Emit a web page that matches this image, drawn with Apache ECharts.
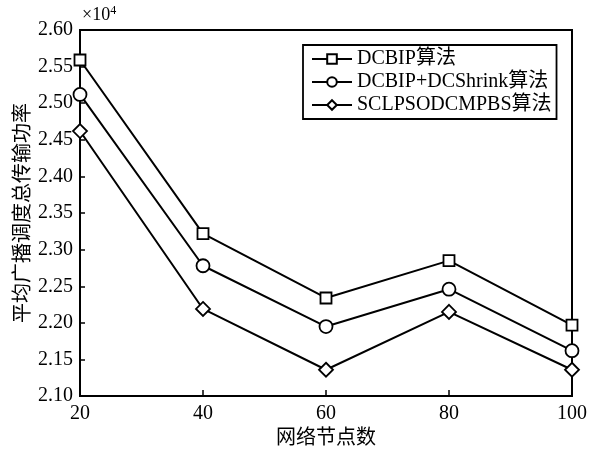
<!DOCTYPE html>
<html><head><meta charset="utf-8">
<script src="https://cdn.jsdelivr.net/npm/echarts@6/dist/echarts.min.js"></script>
<style>html,body{margin:0;padding:0;background:#fff}#c{width:599px;height:454px}</style>
</head><body><div id="c"></div>
<script>
var categories = [20, 40, 60, 80, 100];
var seriesNames = ['DCBIP算法', 'DCBIP+DCShrink算法', 'SCLPSODCMPBS算法'];
var dcbip = [2.559, 2.322, 2.234, 2.285, 2.197];
var dcbipShrink = [2.512, 2.278, 2.195, 2.246, 2.162];
var sclpso = [2.462, 2.219, 2.136, 2.215, 2.136];
var symbols = ['rect', 'circle', 'diamond'];
var symbolSizes = [11, 13, 14];
var FONT = '"Liberation Serif","Times New Roman","Noto Sans CJK SC",serif';

var data = [dcbip, dcbipShrink, sclpso];
var chart = echarts.init(document.getElementById('c'));
var series = data.map(function (d, i) {
  return {
    name: seriesNames[i], type: 'line',
    data: d.map(function (v, j) { return [categories[j], v]; }),
    symbol: symbols[i], symbolSize: symbolSizes[i], showAllSymbol: true,
    lineStyle: { color: '#000', width: 2 },
    itemStyle: { color: '#fff', borderColor: '#000', borderWidth: 1.8 },
    emphasis: { disabled: true }, animation: false
  };
});
chart.setOption({
  animation: false,
  grid: { left: 80, right: 27, top: 30, bottom: 56, show: true, borderColor: '#000', borderWidth: 2 },
  legend: {
    orient: 'vertical', left: 303, top: 45, padding: [4, 5, 4, 8],
    borderColor: '#000', borderWidth: 1.8, itemGap: 3, itemWidth: 40, itemHeight: 12,
    textStyle: { fontFamily: FONT, fontSize: 20, color: '#000' },
    data: seriesNames
  },
  xAxis: {
    type: 'value', min: 20, max: 100, interval: 20,
    name: '网络节点数', nameLocation: 'middle', nameGap: 31,
    nameTextStyle: { fontFamily: FONT, fontSize: 20, color: '#000' },
    axisLine: { lineStyle: { color: '#000', width: 2 } },
    axisTick: { inside: true, length: 6, lineStyle: { color: '#000', width: 1.5 } },
    axisLabel: { fontFamily: FONT, fontSize: 20, color: '#000', margin: 8 },
    splitLine: { show: false }
  },
  yAxis: {
    type: 'value', min: 2.10, max: 2.60, interval: 0.05,
    name: '平均广播调度总传输功率', nameLocation: 'middle', nameGap: 46, nameMoveOverlap: false,
    nameTextStyle: { fontFamily: FONT, fontSize: 20, color: '#000' },
    axisLine: { lineStyle: { color: '#000', width: 2 } },
    axisTick: { inside: true, length: 5, lineStyle: { color: '#000', width: 1.5 } },
    axisLabel: { fontFamily: FONT, fontSize: 20, color: '#000', margin: 7,
      formatter: function (v) { return v.toFixed(2); } },
    splitLine: { show: false }
  },
  graphic: [{
    type: 'text', left: 82, top: 5,
    style: { text: '×10{s|4}', fontFamily: FONT, fontSize: 18, fill: '#000',
      rich: { s: { fontSize: 12, verticalAlign: 'top', padding: [0, 0, 8, 0], fontFamily: FONT } } }
  }],
  series: series
});
</script></body></html>
